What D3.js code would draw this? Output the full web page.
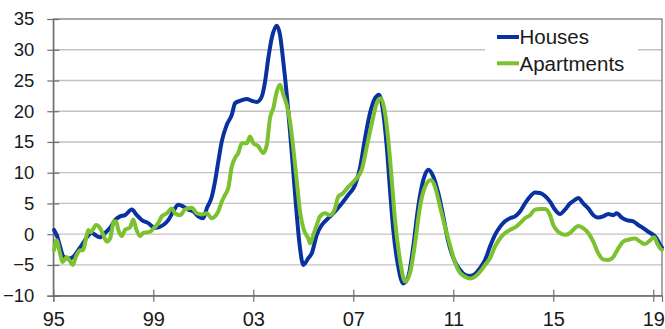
<!DOCTYPE html>
<html>
<head>
<meta charset="utf-8">
<script src="https://cdn.jsdelivr.net/npm/d3@7"></script>
<style>
  html, body { margin: 0; padding: 0; background: #ffffff; }
  svg { display: block; font-family: "Liberation Sans", Arial, sans-serif; }
</style>
</head>
<body>
<svg id="chart" width="665" height="329"></svg>
<script>
// Annual price growth, % — houses vs apartments (decimal years)
const houseDates = [
  1995.03, 1995.16, 1995.27, 1995.40, 1995.60, 1995.80, 1996.00, 1996.20, 1996.34, 1996.54,
  1996.74, 1996.87, 1997.07, 1997.27, 1997.47, 1997.67, 1997.87, 1998.14, 1998.34, 1998.54,
  1998.80, 1999.07, 1999.40, 1999.60, 1999.80, 2000.00, 2000.20, 2000.40, 2000.60, 2000.80,
  2001.00, 2001.14, 2001.34, 2001.47, 2001.60, 2001.74, 2001.94, 2002.14, 2002.27, 2002.47,
  2002.74, 2002.94, 2003.14, 2003.34, 2003.47, 2003.60, 2003.74, 2003.94, 2004.07, 2004.20,
  2004.34, 2004.47, 2004.60, 2004.74, 2004.87, 2005.00, 2005.20, 2005.34, 2005.54, 2005.74,
  2006.00, 2006.27, 2006.54, 2006.80, 2007.07, 2007.27, 2007.47, 2007.67, 2007.87, 2008.03,
  2008.20, 2008.34, 2008.47, 2008.60, 2008.80, 2009.00, 2009.20, 2009.40, 2009.60, 2009.80,
  2010.00, 2010.20, 2010.40, 2010.60, 2010.80, 2011.07, 2011.27, 2011.47, 2011.67, 2011.87,
  2012.07, 2012.27, 2012.47, 2012.67, 2012.87, 2013.07, 2013.27, 2013.47, 2013.67, 2013.87,
  2014.07, 2014.27, 2014.47, 2014.67, 2014.87, 2015.07, 2015.27, 2015.47, 2015.67, 2015.87,
  2016.00, 2016.20, 2016.40, 2016.60, 2016.80, 2017.00, 2017.20, 2017.40, 2017.54, 2017.74,
  2017.94, 2018.20, 2018.40, 2018.60, 2018.80, 2019.00, 2019.14, 2019.27, 2019.35
];
const houseValues = [
  0.7, -0.4, -2.0, -3.6, -4.0, -3.7, -2.6, -1.4, -0.5, 0.2,
  -0.3, -0.5, 0.2, 1.0, 2.3, 2.9, 3.1, 4.0, 3.1, 2.3,
  1.8, 1.0, 1.5, 2.3, 3.7, 4.8, 4.5, 4.0, 3.7, 2.9,
  2.6, 4.2, 6.1, 8.6, 11.8, 15.1, 17.8, 19.4, 21.3, 21.7,
  22.0, 21.7, 21.5, 22.4, 24.8, 28.6, 31.9, 33.9, 32.4, 28.1,
  22.7, 16.7, 10.2, 3.1, -2.3, -5.0, -3.9, -3.1, -0.1, 1.5,
  2.6, 3.7, 5.0, 6.4, 8.0, 10.8, 15.6, 19.7, 22.1, 22.7,
  19.7, 14.2, 7.2, 0.7, -5.3, -8.0, -6.9, -2.0, 4.5, 8.8,
  10.5, 9.4, 6.7, 2.9, -1.2, -4.5, -5.8, -6.6, -6.8, -6.5,
  -5.5, -4.2, -2.0, -0.1, 1.2, 2.1, 2.6, 2.9, 3.7, 5.0,
  6.1, 6.8, 6.7, 6.2, 5.3, 4.0, 3.3, 4.0, 5.0, 5.6,
  5.9, 5.0, 4.2, 3.1, 2.7, 2.9, 3.3, 3.1, 3.4, 2.7,
  2.3, 2.1, 1.5, 1.0, 0.4, -0.1, -0.7, -1.7, -2.2
];

const aptDates = [
  1995.03, 1995.14, 1995.24, 1995.38, 1995.54, 1995.67, 1995.78, 1995.91, 1996.07, 1996.18,
  1996.31, 1996.40, 1996.50, 1996.71, 1996.87, 1997.00, 1997.14, 1997.27, 1997.43, 1997.51,
  1997.60, 1997.74, 1997.87, 1998.07, 1998.20, 1998.31, 1998.47, 1998.60, 1998.74, 1998.87,
  1999.00, 1999.20, 1999.34, 1999.54, 1999.74, 1999.87, 2000.07, 2000.27, 2000.54, 2000.74,
  2000.94, 2001.14, 2001.34, 2001.47, 2001.60, 2001.74, 2001.87, 2002.00, 2002.14, 2002.27,
  2002.40, 2002.54, 2002.74, 2002.87, 2003.00, 2003.20, 2003.40, 2003.54, 2003.67, 2003.80,
  2003.94, 2004.07, 2004.20, 2004.34, 2004.47, 2004.60, 2004.74, 2004.87, 2005.00, 2005.20,
  2005.27, 2005.40, 2005.54, 2005.67, 2005.87, 2006.07, 2006.27, 2006.40, 2006.60, 2006.80,
  2007.07, 2007.34, 2007.54, 2007.74, 2007.94, 2008.10, 2008.27, 2008.40, 2008.54, 2008.67,
  2008.87, 2009.07, 2009.27, 2009.47, 2009.67, 2009.87, 2010.10, 2010.27, 2010.47, 2010.67,
  2010.87, 2011.07, 2011.27, 2011.47, 2011.67, 2011.87, 2012.07, 2012.27, 2012.47, 2012.67,
  2012.87, 2013.07, 2013.27, 2013.47, 2013.67, 2013.87, 2014.07, 2014.27, 2014.47, 2014.67,
  2014.87, 2015.00, 2015.20, 2015.47, 2015.67, 2015.87, 2016.00, 2016.20, 2016.40, 2016.60,
  2016.80, 2017.00, 2017.20, 2017.40, 2017.60, 2017.80, 2018.00, 2018.27, 2018.47, 2018.67,
  2018.87, 2019.03, 2019.16, 2019.30, 2019.35
];
const aptValues = [
  -2.6, -1.0, -2.6, -4.5, -3.7, -4.4, -5.0, -3.6, -2.6, -2.6,
  -0.7, 0.7, 0.3, 1.5, 1.0, -0.1, -1.2, -0.7, 2.1, 2.1,
  0.7, -0.3, 0.7, 1.1, 2.4, 0.9, -0.3, 0.2, 0.3, 0.4,
  0.9, 1.8, 2.9, 3.4, 4.2, 3.4, 3.1, 4.0, 4.3, 3.4,
  3.2, 3.4, 2.6, 2.9, 3.7, 5.3, 6.4, 7.5, 11.0, 12.4,
  13.2, 14.8, 14.8, 15.9, 14.8, 14.3, 13.2, 14.5, 18.9, 20.5,
  23.2, 24.3, 22.7, 21.0, 18.3, 14.0, 8.6, 3.7, 1.0, -0.7,
  -1.5, -0.1, 1.5, 2.9, 3.4, 3.1, 4.2, 6.1, 6.7, 7.7,
  8.8, 10.5, 14.2, 18.0, 21.3, 22.1, 19.7, 15.3, 8.8, 2.3,
  -4.2, -7.7, -6.3, -1.5, 4.5, 7.7, 8.8, 7.7, 4.5, 1.2,
  -1.8, -4.6, -6.3, -6.9, -7.2, -6.9, -6.1, -5.0, -3.9, -2.0,
  -0.7, 0.2, 0.7, 1.1, 1.8, 2.6, 3.1, 4.0, 4.1, 4.1,
  3.1, 1.5, 0.4, -0.1, 0.2, 1.0, 1.35, 1.0, 0.2, -1.2,
  -3.1, -4.1, -4.2, -3.7, -2.3, -1.2, -0.9, -0.7, -1.2, -1.6,
  -1.0, -0.5, -1.5, -2.4, -2.5
];

const seriesNames = ["Houses", "Apartments"];
const seriesColors = ["#0a31a2", "#7cc12e"];

const yTicks = [-10, -5, 0, 5, 10, 15, 20, 25, 30, 35];
const xTicks = [1995, 1999, 2003, 2007, 2011, 2015, 2019];
const xTickLabels = ["95", "99", "03", "07", "11", "15", "19"];

const W = 665, H = 329;
const margin = { top: 19, right: 3, bottom: 33.3, left: 53.3 };
const innerW = W - margin.left - margin.right;
const innerH = H - margin.top - margin.bottom;

const svg = d3.select("#chart");
const g = svg.append("g").attr("transform", `translate(${margin.left},${margin.top})`);

const x = d3.scaleLinear().domain([1995, 2019.35]).range([0, innerW]);
const y = d3.scaleLinear().domain([-10, 35]).range([innerH, 0]);

// horizontal gridlines
g.append("g")
  .selectAll("line")
  .data(yTicks.filter(v => v !== -10 && v !== 35))
  .join("line")
  .attr("x1", 0).attr("x2", innerW)
  .attr("y1", d => y(d)).attr("y2", d => y(d))
  .attr("stroke", "#c3c3c3")
  .attr("stroke-width", 1.3);

// plot frame
g.append("rect")
  .attr("x", 0).attr("y", 0)
  .attr("width", innerW).attr("height", innerH)
  .attr("fill", "none")
  .attr("stroke", "#6e6e6e")
  .attr("stroke-width", 1.2);

// y axis
const yAxis = g.append("g")
  .call(d3.axisLeft(y).tickValues(yTicks).tickSize(6).tickPadding(13).tickFormat(d3.format("d")));
yAxis.select(".domain").attr("stroke", "#6e6e6e").attr("stroke-width", 1.2);
yAxis.selectAll(".tick line").attr("x1", -6).attr("x2", 6).attr("stroke", "#6e6e6e").attr("stroke-width", 1.2);
yAxis.selectAll(".tick text")
  .attr("font-size", "18.5px")
  .attr("fill", "#1a1a1a")
  .attr("font-family", "'Liberation Sans', Arial, sans-serif");

// x axis
const xAxis = g.append("g")
  .attr("transform", `translate(0,${innerH})`)
  .call(d3.axisBottom(x).tickValues(xTicks).tickSize(6).tickPadding(10)
    .tickFormat((d, i) => xTickLabels[i]));
xAxis.select(".domain").attr("stroke", "#6e6e6e").attr("stroke-width", 1.2);
xAxis.selectAll(".tick line").attr("y1", -6).attr("y2", 6).attr("stroke", "#6e6e6e").attr("stroke-width", 1.2);
xAxis.selectAll(".tick text")
  .attr("font-size", "20px")
  .attr("fill", "#1a1a1a")
  .attr("font-family", "'Liberation Sans', Arial, sans-serif");

// series lines (apartments drawn over houses)
const line = d3.line()
  .x(d => x(d[0]))
  .y(d => y(d[1]))
  .curve(d3.curveMonotoneX);

const series = [
  d3.zip(houseDates, houseValues),
  d3.zip(aptDates, aptValues)
];

g.append("g")
  .selectAll("path")
  .data(series)
  .join("path")
  .attr("d", line)
  .attr("fill", "none")
  .attr("stroke", (d, i) => seriesColors[i])
  .attr("stroke-width", 4)
  .attr("stroke-linejoin", "round")
  .attr("stroke-linecap", "round");

// legend
const legend = svg.append("g");
legend.append("rect")
  .attr("x", 485).attr("y", 22)
  .attr("width", 153).attr("height", 54)
  .attr("fill", "#ffffff");

const legendItems = legend.selectAll("g.item")
  .data(seriesNames)
  .join("g")
  .attr("class", "item")
  .attr("transform", (d, i) => `translate(497,${37 + i * 26.3})`);

legendItems.append("line")
  .attr("x1", 0).attr("x2", 22)
  .attr("y1", 0).attr("y2", 0)
  .attr("stroke", (d, i) => seriesColors[i])
  .attr("stroke-width", 4);

legendItems.append("text")
  .attr("x", 22.5)
  .attr("y", 7.3)
  .attr("font-size", "20.5px")
  .attr("fill", "#1a1a1a")
  .text(d => d);
</script>
</body>
</html>
